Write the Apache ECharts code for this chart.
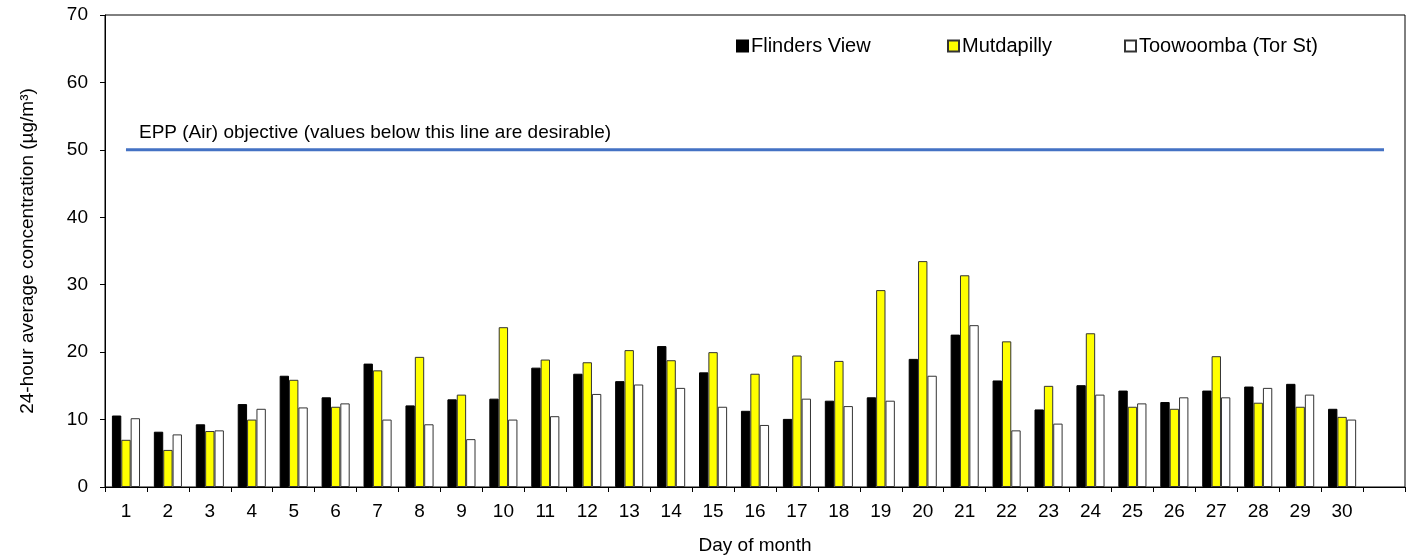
<!DOCTYPE html>
<html>
<head>
<meta charset="utf-8">
<script src="https://cdn.jsdelivr.net/npm/echarts@6/dist/echarts.min.js"></script>
<style>
html,body{margin:0;padding:0;background:#fff;}
#chart{width:1413px;height:557px;}
</style>
</head>
<body>
<div id="chart"></div>
<script>
// Categories (day of month); the trailing empty slot mirrors the reference axis
const days = ['1','2','3','4','5','6','7','8','9','10','11','12','13','14','15','16','17','18','19','20','21','22','23','24','25','26','27','28','29','30',''];
const flindersView = [10.6,8.2,9.3,12.3,16.5,13.3,18.3,12.1,13.0,13.1,17.7,16.8,15.7,20.9,17.0,11.3,10.1,12.8,13.3,19.0,22.6,15.8,11.5,15.1,14.3,12.6,14.3,14.9,15.3,11.6];
const mutdapilly   = [7.0,5.5,8.3,10.0,15.9,11.9,17.3,19.3,13.7,23.7,18.9,18.5,20.3,18.8,20.0,16.8,19.5,18.7,29.2,33.5,31.4,21.6,15.0,22.8,11.9,11.6,19.4,12.5,11.9,10.4];
const toowoomba    = [10.2,7.8,8.4,11.6,11.8,12.4,10.0,9.3,7.1,10.0,10.5,13.8,15.2,14.7,11.9,9.2,13.1,12.0,12.8,16.5,24.0,8.4,9.4,13.7,12.4,13.3,13.3,14.7,13.7,10.0];
const yTicks = [0,10,20,30,40,50,60,70];
const objectiveLevel = 50;
const seriesNames = ['Flinders View','Mutdapilly','Toowoomba (Tor St)'];
const objectiveText = 'EPP (Air) objective (values below this line are desirable)';

const FONT = "'Liberation Sans', Arial, sans-serif";
const FS = 19;
const chart = echarts.init(document.getElementById('chart'), null, {renderer:'canvas'});

function legendAt(name, left){
  return {
    data:[name], left:left, top:31, itemWidth:11, itemHeight:11, itemGap:0,
    icon:'rect',
    textStyle:{fontFamily:FONT, fontSize:20, color:'#000', padding:[0,0,0,-2]}
  };
}

const option = {
  animation:false,
  backgroundColor:'#fff',
  grid:{left:105, right:8, top:15, bottom:70, show:true, borderColor:'#000', borderWidth:1,
        containLabel:false, outerBoundsMode:'none'},
  legend:[legendAt(seriesNames[0],731), legendAt(seriesNames[1],942), legendAt(seriesNames[2],1119)],
  xAxis:{
    type:'category', data:days, boundaryGap:true,
    name:'Day of month', nameLocation:'middle', nameGap:49,
    nameTextStyle:{fontFamily:FONT, fontSize:FS, color:'#000'},
    axisLine:{lineStyle:{color:'#000', width:1}},
    axisTick:{show:true, interval:0, length:5, lineStyle:{color:'#000'}},
    axisLabel:{interval:0, margin:15, fontFamily:FONT, fontSize:FS, color:'#000'},
    splitLine:{show:false}
  },
  yAxis:{
    type:'value', min:yTicks[0], max:yTicks[yTicks.length-1], interval:10,
    name:'24-hour average concentration (µg/m³)', nameLocation:'middle', nameGap:68,
    nameTextStyle:{fontFamily:FONT, fontSize:FS, color:'#000'},
    axisLine:{show:true, lineStyle:{color:'#000', width:1}},
    axisTick:{show:true, length:5, lineStyle:{color:'#000'}},
    axisLabel:{margin:17, fontFamily:FONT, fontSize:FS, color:'#000'},
    splitLine:{show:false}
  },
  graphic:[{
    type:'text', left:139, top:123,
    style:{text:objectiveText, fontFamily:FONT, fontSize:FS, fill:'#000'}
  }],
  series:[
    {name:seriesNames[0], type:'bar', data:flindersView, barGap:'0%', barCategoryGap:'33%',
     itemStyle:{color:'#000', borderColor:'#000', borderWidth:1}},
    {name:seriesNames[1], type:'bar', data:mutdapilly,
     itemStyle:{color:'#ffff00', borderColor:'#333', borderWidth:1}},
    {name:seriesNames[2], type:'bar', data:toowoomba,
     itemStyle:{color:'#fff', borderColor:'#333', borderWidth:1}},
    {name:'objective', type:'line', data:days.map(()=>objectiveLevel), symbol:'none', silent:true,
     lineStyle:{color:'#4472C4', width:3}, z:5}
  ]
};
chart.setOption(option);
</script>
</body>
</html>
